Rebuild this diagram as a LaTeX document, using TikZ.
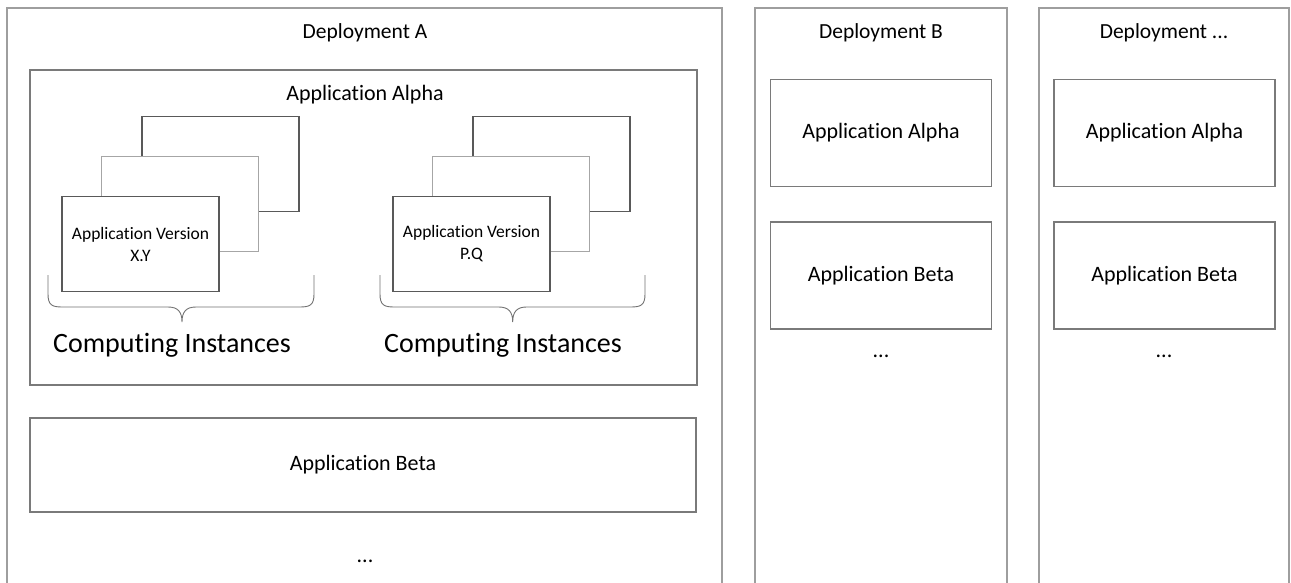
\documentclass[tikz,border=0pt]{standalone}
\usepackage{fontspec}
\setmainfont[Ligatures={NoCommon}]{Carlito}
\begin{document}
\begin{tikzpicture}[x=1pt,y=-1pt,
  frame/.style={draw=black!38,line width=1.1pt,fill=none,inner sep=0pt},
  appbox/.style={draw=black!52,line width=1.1pt,fill=white,inner sep=0pt},
  inst/.style={draw=black!65,line width=1.1pt,fill=white,inner sep=0pt,
    minimum width=157pt,minimum height=95pt},
  instlight/.style={inst,draw=black!35},
  brc/.style={draw=black!55,line width=0.9pt},
  title/.style={font=\fontsize{21.5}{26}\selectfont},
  lbl/.style={font=\fontsize{22}{26}\selectfont},
  small/.style={font=\fontsize{17.5}{22}\selectfont,align=center},
  big/.style={font=\fontsize{28}{32}\selectfont}]
\useasboundingbox (0,0) rectangle (1291,583);
\clip (0,0) rectangle (1291,583);
\fill[white] (0,0) rectangle (1291,583);

% deployment frames (running off the bottom edge)
\node[frame,minimum width=715pt,minimum height=600pt] (depA) at (364.5,308) {};
\node[frame,minimum width=252pt,minimum height=600pt] (depB) at (881,308) {};
\node[frame,minimum width=250pt,minimum height=600pt] (depN) at (1164,308) {};
\node[title] (tA) at (365,33) {Deployment A};
\node[title] (tB) at (881,33) {Deployment B};
\node[title] (tN) at (1164,33) {Deployment ...};

% deployment A
\node[appbox,minimum width=667pt,minimum height=315pt] (alphaA) at (363.5,227.5) {};
\node[lbl] (alphaAt) at (365,95) {Application Alpha};
\node[appbox,minimum width=666pt,minimum height=94pt] (betaA) at (363,465) {};
\node[lbl] (betaAt) at (363,465) {Application Beta};
\node[lbl] (dotsA) at (365,561) {...};

% instance stacks
\node[inst] (xyback) at (220.5,164) {};
\node[instlight] (xymid) at (180,204) {};
\node[inst,small] (xyfront) at (140.5,244) {Application Version\\X.Y};
\node[inst] (pqback) at (551.5,164) {};
\node[instlight] (pqmid) at (511,204) {};
\node[inst,small] (pqfront) at (471.5,244) {Application Version\\P.Q};

% braces under the stacks
\foreach \xa/\xc/\xb/\nm in {48/182/314/bl, 380/512.7/645/br}{
  \draw[brc] (\xa,275) -- (\xa,294) .. controls (\xa,305) and (\xa+4,307) .. (\xa+14,307)
    -- (\xc-14,307) .. controls (\xc-4,307) and (\xc,312) .. (\xc,322)
    .. controls (\xc,312) and (\xc+4,307) .. (\xc+14,307)
    -- (\xb-14,307) .. controls (\xb-4,307) and (\xb,305) .. (\xb,294) -- (\xb,275);
  \coordinate (\nm) at (\xc,322);
}
\node[big] (ciL) at (172,345) {Computing Instances};
\node[big] (ciR) at (503,345) {Computing Instances};

% deployment B
\node[appbox,minimum width=221pt,minimum height=107pt,lbl] (alphaB) at (881,133) {Application Alpha};
\node[appbox,minimum width=221pt,minimum height=107pt,lbl] (betaB) at (881,275.5) {Application Beta};
\node[lbl] (dotsB) at (881,356) {...};

% deployment ...
\node[appbox,minimum width=221pt,minimum height=107pt,lbl] (alphaN) at (1164.5,133) {Application Alpha};
\node[appbox,minimum width=221pt,minimum height=107pt,lbl] (betaN) at (1164.5,275.5) {Application Beta};
\node[lbl] (dotsN) at (1164,356) {...};
\end{tikzpicture}
\end{document}
